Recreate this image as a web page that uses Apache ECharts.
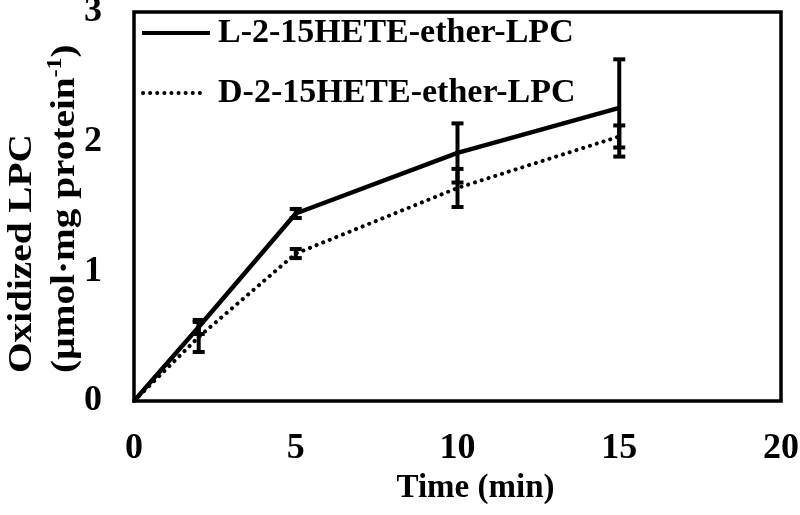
<!DOCTYPE html>
<html>
<head>
<meta charset="utf-8">
<script src="https://cdn.jsdelivr.net/npm/echarts@6/dist/echarts.min.js"></script>
<style>html,body{margin:0;padding:0;background:#fff}#c{width:800px;height:515px}</style>
</head>
<body>
<div id="c"></div>
<script>
const seriesNames = ['L-2-15HETE-ether-LPC', 'D-2-15HETE-ether-LPC'];
const timeL = [0, 2, 5, 10, 15];
const valuesL = [0, 0.571, 1.446, 1.913, 2.26];
const errorsL = [0, 0.054, 0.035, 0.228, 0.375];
const timeD = [0, 2, 5, 10, 15];
const valuesD = [0, 0.494, 1.137, 1.643, 2.04];
const errorsD = [0, 0.116, 0.035, 0.147, 0.085];
const xTicks = [0, 5, 10, 15, 20];
const yTicks = [0, 1, 2, 3];
const xTitle = 'Time (min)';
const yTitle1 = 'Oxidized LPC';
const yTitle2 = '(µmol·mg protein';
const yTitleSup = '-1';

const FONT = '"Liberation Serif", "Times New Roman", serif';

function errData(t, v, e) {
  return t.map((x, i) => [x, v[i] - e[i], v[i] + e[i]]).filter((d, i) => e[i] > 0);
}
function errRender(params, api) {
  const x = api.value(0);
  const lo = api.coord([x, api.value(1)]);
  const hi = api.coord([x, api.value(2)]);
  const hw = 6;
  return {
    type: 'group',
    children: [
      { type: 'line', shape: { x1: lo[0], y1: lo[1], x2: hi[0], y2: hi[1] }, style: { stroke: '#000', lineWidth: 4 } },
      { type: 'line', shape: { x1: lo[0] - hw, y1: lo[1], x2: lo[0] + hw, y2: lo[1] }, style: { stroke: '#000', lineWidth: 4 } },
      { type: 'line', shape: { x1: hi[0] - hw, y1: hi[1], x2: hi[0] + hw, y2: hi[1] }, style: { stroke: '#000', lineWidth: 4 } }
    ]
  };
}

const legendTextStyle = { fontFamily: FONT, fontWeight: 'bold', fontSize: 34, fill: '#000', verticalAlign: 'middle', align: 'left' };

const chart = echarts.init(document.getElementById('c'), null, { renderer: 'canvas' });
chart.setOption({
  animation: false,
  backgroundColor: '#fff',
  textStyle: { fontFamily: FONT },
  grid: { left: 134, right: 19, top: 12, bottom: 114, containLabel: false, outerBoundsMode: 'none',
    show: true, borderColor: '#000', borderWidth: 3.5, backgroundColor: 'transparent' },
  xAxis: {
    type: 'value', min: 0, max: 20, interval: 5,
    axisLine: { show: false }, axisTick: { show: false }, splitLine: { show: false },
    axisLabel: { fontFamily: FONT, fontWeight: 'bold', fontSize: 36, color: '#000', margin: 30,
      formatter: v => xTicks.includes(v) ? String(v) : '' },
    name: xTitle, nameLocation: 'middle', nameGap: 62,
    nameTextStyle: { fontFamily: FONT, fontWeight: 'bold', fontSize: 33, color: '#000', padding: [0, 0, 0, 36] }
  },
  yAxis: {
    type: 'value', min: 0, max: 3, interval: 1,
    axisLine: { show: false }, axisTick: { show: false }, splitLine: { show: false },
    axisLabel: { fontFamily: FONT, fontWeight: 'bold', fontSize: 36, color: '#000', margin: 32,
      formatter: v => yTicks.includes(v) ? String(v) : '' }
  },
  graphic: [
    {
      type: 'text', x: 1, y: 373, rotation: Math.PI / 2, scaleX: 1.19, silent: true,
      style: {
        text: '{a|' + yTitle1 + '}\n{a|' + yTitle2 + '}{s|' + yTitleSup + '}{a|)}',
        align: 'left', verticalAlign: 'top',
        rich: {
          a: { fontFamily: FONT, fontWeight: 'bold', fontSize: 33, fill: '#000', lineHeight: 43 },
          s: { fontFamily: FONT, fontWeight: 'bold', fontSize: 20, fill: '#000', lineHeight: 43, verticalAlign: 'top', padding: [2, 0, 0, 0] }
        }
      }
    },
    { type: 'line', silent: true, shape: { x1: 142, y1: 33, x2: 210, y2: 33 }, style: { stroke: '#000', lineWidth: 4 } },
    { type: 'text', silent: true, x: 218, y: 33, style: Object.assign({ text: seriesNames[0] }, legendTextStyle) },
    { type: 'line', silent: true, shape: { x1: 143, y1: 93, x2: 206, y2: 93 }, style: { stroke: '#000', lineWidth: 4, lineDash: [0.1, 7], lineCap: 'round' } },
    { type: 'text', silent: true, x: 218, y: 93, style: Object.assign({ text: seriesNames[1] }, legendTextStyle) }
  ],
  series: [
    {
      name: seriesNames[0], type: 'line', symbol: 'none',
      data: timeL.map((t, i) => [t, valuesL[i]]),
      lineStyle: { color: '#000', width: 4.5, type: 'solid' },
      itemStyle: { color: '#000' }, z: 3
    },
    {
      name: seriesNames[1], type: 'line', symbol: 'none',
      data: timeD.map((t, i) => [t, valuesD[i]]),
      lineStyle: { color: '#000', width: 4, type: [0.1, 7], cap: 'round' },
      itemStyle: { color: '#000' }, z: 3
    },
    { type: 'custom', renderItem: errRender, data: errData(timeL, valuesL, errorsL), z: 4, silent: true },
    { type: 'custom', renderItem: errRender, data: errData(timeD, valuesD, errorsD), z: 4, silent: true }
  ]
});
</script>
</body>
</html>
